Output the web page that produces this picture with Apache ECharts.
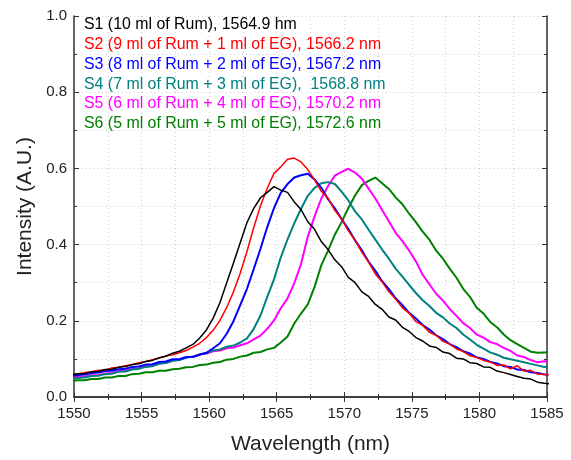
<!DOCTYPE html>
<html>
<head>
<meta charset="utf-8">
<script src="https://cdn.jsdelivr.net/npm/echarts@6/dist/echarts.min.js"></script>
<style>
  html, body { margin: 0; padding: 0; background: #fff; }
  #main { width: 571px; height: 460px; }
</style>
</head>
<body>
<div id="main"></div>
<script>
// wavelength samples (nm)
var wavelength = [1549.8, 1550.3, 1550.8, 1551.3, 1551.8, 1552.3, 1552.8, 1553.3, 1553.8, 1554.3,
  1554.8, 1555.3, 1555.8, 1556.3, 1556.8, 1557.3, 1557.8, 1558.3, 1558.8, 1559.3,
  1559.8, 1560.3, 1560.8, 1561.3, 1561.8, 1562.3, 1562.8, 1563.3, 1563.8, 1564.3,
  1564.8, 1565.3, 1565.8, 1566.3, 1566.8, 1567.3, 1567.8, 1568.3, 1568.8, 1569.3,
  1569.8, 1570.3, 1570.8, 1571.3, 1571.8, 1572.3, 1572.8, 1573.3, 1573.8, 1574.3,
  1574.8, 1575.3, 1575.8, 1576.3, 1576.8, 1577.3, 1577.8, 1578.3, 1578.8, 1579.3,
  1579.8, 1580.3, 1580.8, 1581.3, 1581.8, 1582.3, 1582.8, 1583.3, 1583.8, 1584.3, 1584.8, 1585.3];

var s1 = [0.058, 0.061, 0.062, 0.066, 0.067, 0.072, 0.073, 0.078, 0.080, 0.085,
  0.087, 0.093, 0.096, 0.103, 0.107, 0.115, 0.120, 0.129, 0.138, 0.155,
  0.176, 0.207, 0.248, 0.300, 0.352, 0.405, 0.458, 0.495, 0.523, 0.537,
  0.552, 0.543, 0.537, 0.512, 0.492, 0.460, 0.440, 0.408, 0.387, 0.360,
  0.342, 0.314, 0.300, 0.276, 0.264, 0.243, 0.230, 0.210, 0.202, 0.183,
  0.172, 0.156, 0.147, 0.134, 0.130, 0.118, 0.114, 0.102, 0.100, 0.090,
  0.088, 0.079, 0.078, 0.068, 0.064, 0.059, 0.054, 0.049, 0.047, 0.039, 0.036, 0.034];

var s2 = [0.058, 0.061, 0.064, 0.066, 0.070, 0.071, 0.076, 0.078, 0.082, 0.085,
  0.090, 0.093, 0.098, 0.102, 0.108, 0.111, 0.116, 0.122, 0.131, 0.141,
  0.156, 0.175, 0.201, 0.235, 0.276, 0.325, 0.382, 0.445, 0.502, 0.548,
  0.587, 0.604, 0.624, 0.627, 0.617, 0.597, 0.570, 0.540, 0.522, 0.490,
  0.467, 0.436, 0.412, 0.380, 0.354, 0.323, 0.302, 0.276, 0.257, 0.234,
  0.220, 0.198, 0.188, 0.170, 0.162, 0.146, 0.139, 0.126, 0.120, 0.108,
  0.104, 0.096, 0.092, 0.083, 0.084, 0.074, 0.082, 0.068, 0.070, 0.060, 0.060, 0.058];

var s3 = [0.055, 0.058, 0.059, 0.063, 0.064, 0.068, 0.069, 0.073, 0.074, 0.079,
  0.080, 0.085, 0.086, 0.092, 0.093, 0.099, 0.099, 0.105, 0.105, 0.111,
  0.116, 0.128, 0.141, 0.166, 0.199, 0.241, 0.284, 0.336, 0.389, 0.446,
  0.496, 0.536, 0.559, 0.576, 0.582, 0.586, 0.571, 0.549, 0.519, 0.495,
  0.467, 0.441, 0.411, 0.385, 0.355, 0.331, 0.304, 0.283, 0.259, 0.241,
  0.221, 0.206, 0.189, 0.177, 0.162, 0.152, 0.139, 0.131, 0.120, 0.114,
  0.104, 0.100, 0.092, 0.088, 0.081, 0.079, 0.072, 0.071, 0.065, 0.063, 0.059, 0.058];

var s4 = [0.047, 0.050, 0.051, 0.055, 0.056, 0.060, 0.061, 0.066, 0.067, 0.072,
  0.074, 0.079, 0.081, 0.087, 0.089, 0.095, 0.097, 0.103, 0.106, 0.112,
  0.115, 0.122, 0.125, 0.132, 0.135, 0.143, 0.154, 0.179, 0.214, 0.263,
  0.309, 0.366, 0.414, 0.456, 0.494, 0.528, 0.549, 0.561, 0.564, 0.559,
  0.539, 0.516, 0.487, 0.466, 0.439, 0.413, 0.387, 0.363, 0.337, 0.316,
  0.294, 0.273, 0.254, 0.239, 0.221, 0.209, 0.193, 0.181, 0.164, 0.151,
  0.137, 0.127, 0.117, 0.111, 0.103, 0.099, 0.095, 0.091, 0.087, 0.083, 0.079, 0.080];

var s5 = [0.050, 0.053, 0.053, 0.057, 0.058, 0.062, 0.063, 0.068, 0.069, 0.074,
  0.075, 0.081, 0.082, 0.088, 0.090, 0.096, 0.098, 0.104, 0.106, 0.112,
  0.114, 0.120, 0.122, 0.128, 0.130, 0.136, 0.141, 0.151, 0.161, 0.179,
  0.201, 0.233, 0.259, 0.299, 0.349, 0.421, 0.474, 0.521, 0.554, 0.581,
  0.591, 0.599, 0.589, 0.573, 0.547, 0.521, 0.491, 0.461, 0.431, 0.409,
  0.384, 0.356, 0.321, 0.296, 0.271, 0.253, 0.231, 0.213, 0.194, 0.181,
  0.164, 0.156, 0.144, 0.139, 0.129, 0.121, 0.109, 0.105, 0.097, 0.091, 0.094, 0.092];

var s6 = [0.042, 0.044, 0.044, 0.047, 0.047, 0.051, 0.051, 0.055, 0.055, 0.060,
  0.061, 0.065, 0.065, 0.069, 0.069, 0.073, 0.074, 0.078, 0.079, 0.084,
  0.085, 0.090, 0.092, 0.098, 0.100, 0.106, 0.109, 0.116, 0.118, 0.125,
  0.129, 0.143, 0.159, 0.193, 0.219, 0.243, 0.289, 0.346, 0.384, 0.426,
  0.459, 0.496, 0.529, 0.556, 0.567, 0.576, 0.561, 0.546, 0.524, 0.506,
  0.481, 0.459, 0.434, 0.413, 0.384, 0.363, 0.337, 0.313, 0.284, 0.263,
  0.234, 0.219, 0.197, 0.183, 0.164, 0.149, 0.139, 0.129, 0.119, 0.116, 0.117, 0.118];

var seriesNames = [
  'S1 (10 ml of Rum), 1564.9 hm',
  'S2 (9 ml of Rum + 1 ml of EG), 1566.2 nm',
  'S3 (8 ml of Rum + 2 ml of EG), 1567.2 nm',
  'S4 (7 ml of Rum + 3 ml of EG),  1568.8 nm',
  'S5 (6 ml of Rum + 4 ml of EG), 1570.2 nm',
  'S6 (5 ml of Rum + 5 ml of EG), 1572.6 nm'
];
var seriesColors = ['#000000', '#ff0000', '#0000ff', '#008080', '#ff00ff', '#008000'];
var seriesWidths = [1.5, 1.5, 2, 2, 2, 2];
var allData = [s1, s2, s3, s4, s5, s6];

var chart = echarts.init(document.getElementById('main'));

function pairs(ys) {
  return wavelength.map(function (x, i) { return [x, ys[i]]; });
}

var frameLine = { show: true, lineStyle: { color: '#333', width: 1.5 } };
var dotted = { show: true, lineStyle: { color: '#cfcfcf', type: [1, 3], width: 1 } };

var xCommon = {
  type: 'value', min: 1550, max: 1585, interval: 5,
  axisLine: frameLine,
  axisTick: { show: true, inside: true, length: 5, lineStyle: { color: '#333' } },
  minorTick: { show: true, splitNumber: 2, length: 3, lineStyle: { color: '#333' } },
  splitLine: { show: false }
};
var yCommon = {
  type: 'value', min: 0, max: 1, interval: 0.2,
  axisLine: frameLine,
  axisTick: { show: true, inside: true, length: 5, lineStyle: { color: '#333' } },
  minorTick: { show: true, splitNumber: 2, length: 3, lineStyle: { color: '#333' } },
  splitLine: { show: false }
};

var option = {
  backgroundColor: '#fff',
  animation: false,
  textStyle: { fontFamily: 'Liberation Sans, Arial, sans-serif' },
  grid: { left: 74, right: 24, top: 16, bottom: 56 },
  legend: {
    orient: 'vertical',
    left: 79, top: 15,
    icon: 'none',
    itemWidth: 0, itemHeight: 14, itemGap: 0,
    padding: 0,
    selectedMode: false,
    data: seriesNames.map(function (n, i) {
      return { name: n, textStyle: { color: seriesColors[i], fontSize: 15.9, lineHeight: 19.8 } };
    })
  },
  xAxis: [
    Object.assign({}, xCommon, {
      position: 'bottom',
      name: 'Wavelength (nm)', nameLocation: 'middle', nameGap: 37, nameMoveOverlap: false,
      nameTextStyle: { fontSize: 21, color: '#222' },
      axisLabel: { fontSize: 15, color: '#222', margin: 9, formatter: function (v) { return String(v); } },
      splitLine: dotted,
      minorSplitLine: dotted
    }),
    Object.assign({}, xCommon, { position: 'top', axisLabel: { show: false } })
  ],
  yAxis: [
    Object.assign({}, yCommon, {
      position: 'left',
      name: 'Intensity (A.U.)', nameLocation: 'middle', nameGap: 38, nameMoveOverlap: false,
      nameTextStyle: { fontSize: 21, color: '#222' },
      axisLabel: { fontSize: 15, color: '#222', margin: 7, formatter: function (v) { return v.toFixed(1); } },
      splitLine: dotted,
      minorSplitLine: dotted
    }),
    Object.assign({}, yCommon, { position: 'right', axisLabel: { show: false } })
  ],
  series: allData.map(function (d, i) {
    return {
      name: seriesNames[i],
      type: 'line',
      xAxisIndex: 0, yAxisIndex: 0,
      data: pairs(d),
      showSymbol: false,
      clip: true,
      lineStyle: { color: seriesColors[i], width: seriesWidths[i] },
      itemStyle: { color: seriesColors[i] },
      z: 10 - i
    };
  })
};

chart.setOption(option);
</script>
</body>
</html>
